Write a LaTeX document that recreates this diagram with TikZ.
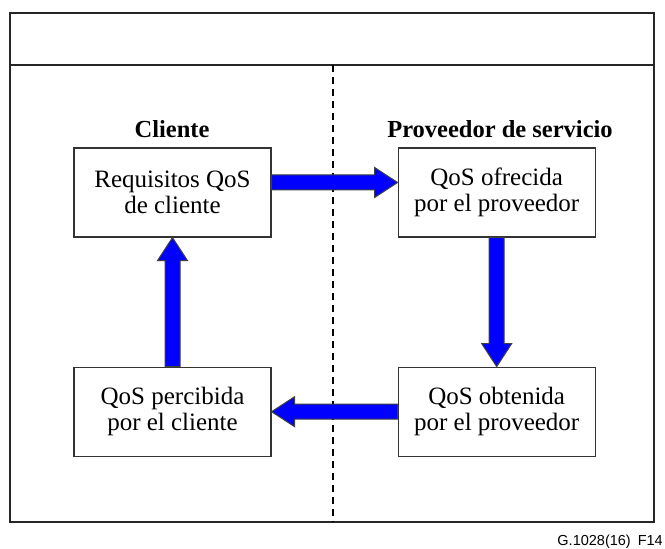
\documentclass[tikz,border=0pt]{standalone}
\usepackage{fontspec}
\setmainfont{Liberation Serif}
\newfontfamily\figcodefont{Liberation Sans}
\usetikzlibrary{positioning,calc}
\definecolor{qblue}{RGB}{0,0,255}

% fat block arrow from #1 to #2 (tip at #2)
\newcommand{\blockarrow}[2]{%
  \coordinate (ba-s) at (#1);
  \coordinate (ba-e) at (#2);
  \coordinate (ba-h) at ($(ba-e)!23pt!(ba-s)$);
  \draw[qosarrow] ($(ba-s)!7.5pt!90:(ba-e)$) -- ($(ba-h)!7.5pt!90:(ba-e)$)
    -- ($(ba-h)!15pt!90:(ba-e)$) -- (ba-e) -- ($(ba-h)!15pt!-90:(ba-e)$)
    -- ($(ba-h)!7.5pt!-90:(ba-e)$) -- ($(ba-s)!7.5pt!-90:(ba-e)$) -- cycle;}

\begin{document}
\begin{tikzpicture}[x=1pt, y=1pt,
    qosbox/.style={rectangle, draw=black!80, fill=white, line width=1.2pt, minimum width=197pt, minimum height=89pt, align=center, font=\fontsize{25}{26}\selectfont},
    sidelabel/.style={font=\bfseries\fontsize{24.5}{28}\selectfont},
    frame/.style={draw=black!85, line width=1.5pt},
    divider/.style={line width=1.5pt, dash pattern=on 7pt off 5pt},
    qosarrow/.style={fill=qblue, draw=black!75, line width=1pt, line join=miter},
    ]
\useasboundingbox (0,0) rectangle (665,549);

\draw[frame] (10,27) rectangle (654,536);
\draw[frame] (10,484) -- (654,484);
\draw[divider] (333,484) -- (333,27);

\node[sidelabel] (cli) at (172,420) {Cliente};
\node[sidelabel] (prov) at (500,420) {Proveedor de servicio};

\node[qosbox] (req) at (172.5,356.5) {Requisitos QoS\\de cliente};
\node[qosbox, right=126pt of req] (ofr) {QoS ofrecida\\por el proveedor};
\node[qosbox, below=129pt of ofr] (obt) {QoS obtenida\\por el proveedor};
\node[qosbox, below=129pt of req] (per) {QoS percibida\\por el cliente};

\blockarrow{$(req.east)+(0,10)$}{$(ofr.west)+(0,10)$}
\blockarrow{ofr.south}{obt.north}
\blockarrow{obt.west}{per.east}
\blockarrow{per.north}{req.south}

\node[font=\figcodefont\fontsize{14.5}{16}\selectfont, anchor=base east, inner sep=0pt] (figcode) at (663,3) {G.1028(16)\hspace{7pt}F14};

\end{tikzpicture}
\end{document}
